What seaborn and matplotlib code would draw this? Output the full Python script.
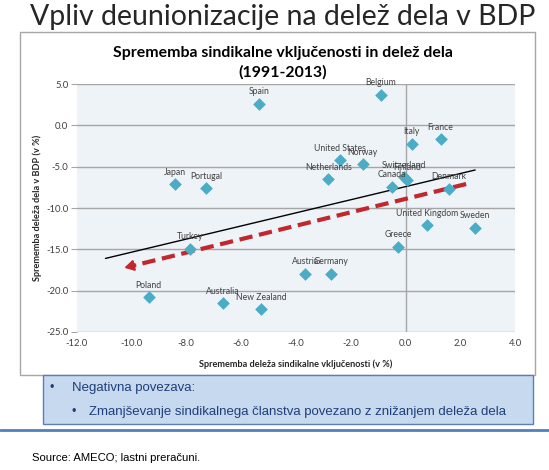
import seaborn as sns
import matplotlib.pyplot as plt
import matplotlib.patches as patches
import pandas as pd

# podatki (odčitani iz grafa)
drzave = ["Spain", "Belgium", "Italy", "France", "United States", "Norway",
          "Netherlands", "Switzerland", "Finland", "Canada", "Denmark",
          "United Kingdom", "Sweden", "Japan", "Portugal", "Turkey", "Greece",
          "Austria", "Germany", "Poland", "Australia", "New Zealand"]
sindikati = [-5.36, -0.91, 0.22, 1.28, -2.38, -1.57, -2.82, -0.07, 0.05, -0.51,
             1.58, 0.77, 2.54, -8.42, -7.27, -7.86, -0.26, -3.66, -2.72, -9.37,
             -6.67, -5.26]
delez_dela = [2.6, 3.7, -2.25, -1.7, -4.2, -4.7, -6.5, -6.3, -6.6, -7.4, -7.7,
              -12.1, -12.4, -7.15, -7.6, -14.9, -14.7, -17.95, -17.95, -20.8,
              -21.5, -22.25]

trend_x = [-10.95, 2.54]
trend_y = [-16.1, -5.4]
puscica_x = [2.21, -10.36]
puscica_y = [-7.1, -17.3]

df = pd.DataFrame({"drzava": drzave, "x": sindikati, "y": delez_dela})

sns.set_style("white")
plt.rcParams['font.family'] = ['Lato', 'DejaVu Sans']

fig = plt.figure(figsize=(5.49, 4.70), dpi=100)

# okvir grafa
fig.patches.append(patches.Rectangle((20 / 549, 1 - 375 / 470), 515 / 549, 343 / 470,
                                     transform=fig.transFigure, facecolor="white",
                                     edgecolor="#a6a6a6", linewidth=1, zorder=-1))

ax = fig.add_axes([76.7 / 549, 1 - 332 / 470, 438.5 / 549, 248 / 470])
ax.set_zorder(2)
ax.set_facecolor("#eef3f8")

sns.scatterplot(data=df, x="x", y="y", marker="D", s=42, color="#4bacc6",
                edgecolor="#4bacc6", linewidth=0, ax=ax, zorder=4)

for _, r in df.iterrows():
    ax.annotate(r["drzava"], (r["x"], r["y"]), xytext=(0, 12),
                textcoords="offset pixels", ha="center", va="center",
                fontsize=6.2, color="#404040", zorder=5)

# trendna črta
ax.plot(trend_x, trend_y, color="black", linewidth=1, zorder=3)

# rdeča puščica
ax.plot([puscica_x[0], puscica_x[1] + 0.45], [puscica_y[0], puscica_y[1] + 0.35],
        color="#c0282d", linewidth=3, dashes=(3.2, 1.6), zorder=3)
ax.annotate("", xy=(puscica_x[1], puscica_y[1]),
            xytext=(puscica_x[1] + 0.6, puscica_y[1] + 0.47),
            arrowprops=dict(arrowstyle="-|>,head_length=0.55,head_width=0.32",
                            color="#c0282d", lw=1.5), zorder=3)

ax.set_xlim(-12, 4)
ax.set_ylim(-25, 5)
ax.set_xticks(range(-12, 5, 2))
ax.set_xticklabels([f"{v:.1f}" for v in range(-12, 5, 2)])
ax.set_yticks(range(-25, 6, 5))
ax.set_yticklabels([f"{v:.1f}" for v in range(-25, 6, 5)])
ax.grid(axis="y", color="#a6a6a6", linewidth=1)
ax.axvline(0, color="#a6a6a6", linewidth=1, zorder=1)
for s in ax.spines.values():
    s.set_visible(False)
ax.tick_params(axis="x", length=0, pad=5, labelsize=6.8, labelcolor="#404040")
ax.tick_params(axis="y", length=4, color="#a6a6a6", pad=2, labelsize=6.8,
               labelcolor="#404040", left=True)
ax.set_xlabel("Sprememba deleža sindikalne vključenosti (v %)", fontsize=6.6,
              fontweight="bold", color="#262626", labelpad=8)
ax.set_ylabel("Sprememba deleža dela v BDP (v %)", fontsize=6.6,
              fontweight="bold", color="#262626", labelpad=3)

fig.text(283 / 549, 1 - 53 / 470, "Sprememba sindikalne vključenosti in delež dela",
         ha="center", va="center", fontsize=11.4, fontweight="bold", color="black")
fig.text(283 / 549, 1 - 72 / 470, "(1991-2013)", ha="center", va="center",
         fontsize=11.4, fontweight="bold", color="black")

# naslov prosojnice
fig.text(283 / 549, 1 - 17 / 470, "Vpliv deunionizacije na delež dela v BDP",
         ha="center", va="center", fontsize=20.5, color="#262626")

# modro polje
fig.patches.append(patches.Rectangle((43 / 549, 1 - 424 / 470), 490 / 549, 49 / 470,
                                     transform=fig.transFigure, facecolor="#c6d9ef",
                                     edgecolor="#5b7fb5", linewidth=1))
fig.text(49 / 549, 1 - 388 / 470, "•", ha="left", va="center", fontsize=9,
         color="#1f3f7a", family="Liberation Sans")
fig.text(72 / 549, 1 - 388 / 470, "Negativna povezava:", ha="left", va="center",
         fontsize=9.5, color="#1f3f7a", family="Liberation Sans")
fig.text(71 / 549, 1 - 412 / 470, "•", ha="left", va="center", fontsize=9,
         color="#1f3f7a", family="Liberation Sans")
fig.text(89 / 549, 1 - 412 / 470,
         "Zmanjševanje sindikalnega članstva povezano z znižanjem deleža dela",
         ha="left", va="center", fontsize=9.5, color="#1f3f7a", family="Liberation Sans")

fig.add_artist(plt.Line2D([0, 1], [1 - 430 / 470] * 2, transform=fig.transFigure,
                          color="#4f81bd", linewidth=2))
fig.text(32 / 549, 1 - 458 / 470, "Source: AMECO; lastni preračuni.", ha="left",
         va="center", fontsize=8.1, color="black", family="Liberation Sans")

fig.savefig("out.png", dpi=100)
